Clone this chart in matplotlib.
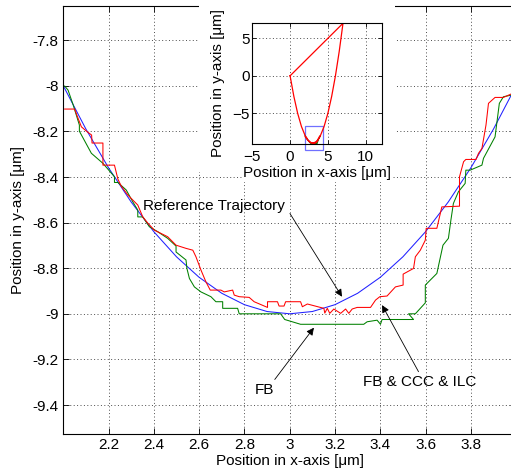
"""Trajectory tracking: bottom of the loop, with whole loop as inset
"""
import matplotlib
matplotlib.use("Agg")
import matplotlib.pyplot as plt
from matplotlib.patches import Rectangle

plt.rcParams['font.family'] = ['Liberation Sans', 'DejaVu Sans']
plt.rcParams['font.size'] = 11

# reference trajectory
ref_x = [2.0, 2.1, 2.2, 2.3, 2.4, 2.5, 2.6, 2.7, 2.8, 2.9, 3.0,
         3.1, 3.2, 3.3, 3.4, 3.5, 3.6, 3.7, 3.8, 3.9, 4.0]
ref_y = [-8.0, -8.19, -8.36, -8.51, -8.64, -8.75, -8.84, -8.91, -8.96, -8.99, -9.0,
         -8.99, -8.96, -8.91, -8.84, -8.75, -8.64, -8.51, -8.36, -8.19, -8.0]

# FB
fb_x = [2.006, 2.021, 2.044, 2.071, 2.071, 2.124, 2.175, 2.226, 2.226, 2.241,
        2.278, 2.307, 2.329, 2.329, 2.351, 2.380, 2.417, 2.461, 2.498, 2.498,
        2.542, 2.546, 2.557, 2.579, 2.608, 2.652, 2.674, 2.704, 2.704, 2.770,
        2.777, 2.960, 2.978, 3.048, 3.327, 3.342, 3.386, 3.401, 3.408, 3.547,
        3.525, 3.555, 3.599, 3.599, 3.650, 3.677, 3.701, 3.712, 3.723, 3.745,
        3.775, 3.778, 3.797, 3.849, 3.856, 3.907, 3.926, 3.944, 3.978]
fb_y = [-8.001, -8.019, -8.085, -8.172, -8.199, -8.296, -8.340, -8.399, -8.424, -8.424,
        -8.457, -8.509, -8.545, -8.575, -8.575, -8.618, -8.640, -8.669, -8.703, -8.729,
        -8.764, -8.801, -8.845, -8.882, -8.904, -8.925, -8.947, -8.947, -8.976, -8.976,
        -9.0, -9.0, -9.025, -9.046, -9.046, -9.035, -9.028, -9.046, -9.025, -9.025,
        -9.0, -9.0, -8.952, -8.874, -8.823, -8.699, -8.669, -8.589, -8.516, -8.465,
        -8.428, -8.370, -8.370, -8.348, -8.318, -8.224, -8.077, -8.048, -8.041]

# FB & CCC & ILC
ilc_x = [2.006, 2.050, 2.065, 2.080, 2.106, 2.125, 2.127, 2.175, 2.175, 2.226,
         2.241, 2.256, 2.285, 2.329, 2.351, 2.373, 2.402, 2.461, 2.476, 2.498,
         2.542, 2.572, 2.586, 2.608, 2.630, 2.649, 2.696, 2.711, 2.748, 2.755,
         2.777, 2.821, 2.843, 2.902, 2.902, 2.946, 2.953, 2.975, 2.982, 3.048,
         3.056, 3.078, 3.151, 3.155, 3.166, 3.177, 3.195, 3.225, 3.247, 3.261,
         3.276, 3.298, 3.357, 3.379, 3.398, 3.430, 3.467, 3.501, 3.501, 3.547,
         3.555, 3.577, 3.599, 3.603, 3.650, 3.672, 3.750, 3.750, 3.768, 3.778,
         3.823, 3.834, 3.849, 3.867, 3.878, 3.907, 3.944, 3.978]
ilc_y = [-8.102, -8.102, -8.142, -8.180, -8.202, -8.216, -8.251, -8.251, -8.348, -8.348,
         -8.409, -8.440, -8.479, -8.523, -8.575, -8.602, -8.633, -8.662, -8.677, -8.699,
         -8.713, -8.721, -8.750, -8.808, -8.860, -8.896, -8.896, -8.904, -8.896, -8.918,
         -8.925, -8.928, -8.947, -8.972, -8.947, -8.947, -8.966, -8.966, -8.947, -8.947,
         -8.969, -8.957, -8.976, -8.997, -8.976, -8.998, -8.979, -8.998, -8.979, -8.998,
         -8.979, -8.972, -8.972, -8.940, -8.925, -8.922, -8.882, -8.874, -8.826, -8.801,
         -8.750, -8.721, -8.677, -8.625, -8.625, -8.531, -8.528, -8.399, -8.333, -8.323,
         -8.323, -8.296, -8.275, -8.172, -8.077, -8.051, -8.051, -8.036]

# whole loop for the inset
loop_x = [0, 0.5, 1, 1.5, 2, 2.5, 3, 3.5, 4, 4.5, 5, 5.5, 6, 6.5, 7, 0]
loop_y = [0, -2.75, -5, -6.75, -8, -8.75, -9, -8.75, -8, -6.75, -5, -2.75, 0, 3.25, 7, 0]

# zoom box drawn in the inset
box_x = [1.92, 4.42]
box_y = [-9.87, -6.72]

xticks = [2.2, 2.4, 2.6, 2.8, 3.0, 3.2, 3.4, 3.6, 3.8]
yticks = [-9.4, -9.2, -9.0, -8.8, -8.6, -8.4, -8.2, -8.0, -7.8]

W, H = 511, 474
fig = plt.figure(figsize=(W / 100, H / 100), dpi=100)
ax = fig.add_axes([63.3 / W, (H - 433.5) / H, (516.1 - 63.3) / W, (433.5 - 6) / H])

lw = 0.75
ax.plot(ref_x, ref_y, color='#2020ff', lw=lw)
ax.plot(fb_x, fb_y, color='#008000', lw=lw)
ax.plot(ilc_x, ilc_y, color='r', lw=lw)

ax.set_xlim(2, 4)
ax.set_ylim(-9.525, -7.65)
ax.set_xticks(xticks)
ax.set_yticks(yticks)
ax.set_xticklabels(['%g' % v for v in xticks])
ax.set_yticklabels(['%g' % v for v in yticks])
ax.grid(True, color='0.3', lw=0.7, dashes=(1, 2.5))
ax.tick_params(direction='in', length=4, width=0.6, top=True, right=True, pad=3.5,
               labelsize=11)
for sp in ax.spines.values():
    sp.set_linewidth(0.8)
ax.set_xlabel('Position in x-axis [\u03bcm]', fontsize=11, labelpad=1.5)
ax.set_ylabel('Position in y-axis [\u03bcm]', fontsize=11, labelpad=5)

arrow = dict(arrowstyle='-|>', color='k', lw=0.6, mutation_scale=11,
             shrinkA=0, shrinkB=0)
ax.annotate('', xy=(3.231, -8.925), xytext=(3.001, -8.560), arrowprops=arrow)
ax.text(2.351, -8.526, 'Reference Trajectory', ha='left', va='center', fontsize=11)
ax.annotate('', xy=(3.107, -9.061), xytext=(2.934, -9.288), arrowprops=arrow)
ax.text(2.887, -9.335, 'FB', ha='center', va='center', fontsize=11)
ax.annotate('', xy=(3.408, -8.962), xytext=(3.569, -9.254), arrowprops=arrow)
ax.text(3.574, -9.298, 'FB & CCC & ILC', ha='center', va='center', fontsize=11)

# white backing behind the inset and its labels
fig.add_artist(Rectangle((199 / W, 1 - 172 / H), (395 - 199) / W, 172 / H,
                         transform=fig.transFigure, facecolor='white',
                         edgecolor='none', zorder=1))

ins = fig.add_axes([252.3 / W, (H - 144) / H, (382.3 - 252.3) / W, (144 - 22.7) / H])
ins.set_zorder(3)
ins.plot(ref_x, ref_y, color='#2020ff', lw=lw)
ins.plot(fb_x, fb_y, color='#008000', lw=lw)
ins.plot(loop_x, loop_y, color='r', lw=0.9)
ins.plot(ilc_x, ilc_y, color='r', lw=0.9)
ins.add_patch(Rectangle((box_x[0], box_y[0]), box_x[1] - box_x[0], box_y[1] - box_y[0],
                        facecolor='none', edgecolor='#7070ff', lw=0.9, clip_on=False))
ins.set_xlim(-5, 12.2)
ins.set_ylim(-9.09, 7.08)
ins.set_xticks([-5, 0, 5, 10])
ins.set_yticks([-5, 0, 5])
ins.grid(True, color='0.3', lw=0.7, dashes=(1, 2.5))
ins.tick_params(direction='in', length=3, width=0.6, top=True, right=True,
                labelsize=11)
ins.tick_params(axis='y', pad=2)
ins.tick_params(axis='x', pad=4)
for sp in ins.spines.values():
    sp.set_linewidth(0.8)
ins.set_xlabel('Position in x-axis [\u03bcm]', fontsize=11, labelpad=2,
               bbox=dict(facecolor='white', edgecolor='none', pad=1))
ins.set_ylabel('Position in y-axis [\u03bcm]', fontsize=11, labelpad=5)

fig.savefig('out.png', dpi=100)
